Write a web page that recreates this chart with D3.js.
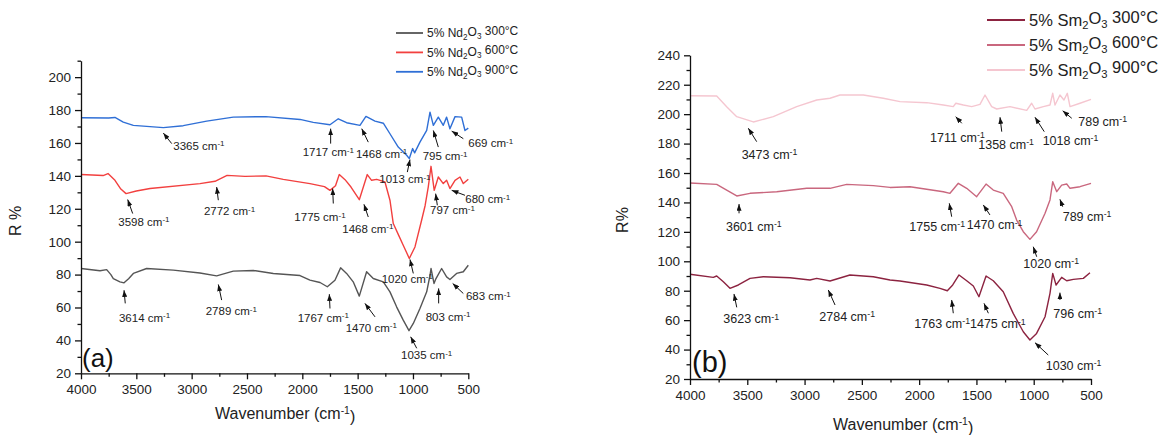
<!DOCTYPE html>
<html>
<head>
<meta charset="utf-8">
<script src="https://cdn.jsdelivr.net/npm/d3@7"></script>
<style>
  body { margin: 0; background: #fff; }
  svg { font-family: "Liberation Sans", Arial, sans-serif; }
</style>
</head>
<body>
<div id="vis"></div>
<script>
const FRAME_WIDTH = 1166;
const FRAME_HEIGHT = 435;

// x axis ticks (wavenumber), shared by both panels
const X_TICKS = [4000, 3500, 3000, 2500, 2000, 1500, 1000, 500];
const X_MINOR = [3750, 3250, 2750, 2250, 1750, 1250, 750];

// (a) Nd2O3 spectra
const ND_Y_TICKS = [20, 40, 60, 80, 100, 120, 140, 160, 180, 200];
const ND_Y_MINOR = [30, 50, 70, 90, 110, 130, 150, 170, 190, 210];
const ND_LEGEND = ["300", "600", "900"];

const nd300W = [4000, 3828, 3768, 3730, 3708, 3648, 3611, 3570, 3527, 3407, 3166, 2925, 2774, 2624, 2443, 2262, 2021, 1931, 1840, 1774, 1705, 1654, 1600, 1540, 1485, 1419, 1359, 1268, 1208, 1148, 1088, 1036, 997, 937, 876, 846, 837, 810, 792, 741, 696, 666, 606, 545, 500];
const nd300 = [83.7, 82.3, 83.0, 80.0, 77.6, 75.6, 75.0, 77.5, 80.7, 83.7, 82.7, 81.0, 79.2, 82.1, 82.5, 80.7, 79.4, 76.6, 75.2, 72.6, 76.6, 84.1, 80.7, 75.6, 66.9, 81.7, 77.6, 75.6, 69.5, 60.4, 52.3, 45.9, 50.3, 59.4, 69.5, 79.6, 83.7, 74.6, 77.6, 83.7, 78.6, 77.0, 80.7, 81.7, 85.7];

const nd600W = [4000, 3800, 3756, 3693, 3640, 3593, 3500, 3376, 2925, 2789, 2680, 2518, 2328, 2172, 1931, 1800, 1750, 1700, 1666, 1614, 1560, 1485, 1413, 1374, 1328, 1253, 1208, 1178, 1130, 1088, 1033, 982, 922, 890, 862, 837, 808, 771, 726, 696, 666, 620, 575, 545, 500];
const nd600 = [140.8, 140.2, 141.4, 137.3, 132.0, 129.2, 130.8, 132.3, 135.3, 136.7, 140.3, 139.7, 140.0, 137.9, 135.3, 133.5, 131.2, 134.0, 140.8, 137.7, 133.2, 125.5, 140.8, 137.3, 137.9, 136.3, 125.2, 111.0, 104.0, 97.8, 89.8, 96.8, 113.0, 122.0, 133.2, 145.8, 131.2, 139.3, 135.3, 137.3, 132.3, 137.3, 139.3, 135.3, 138.0];

const nd900W = [4000, 3750, 3693, 3618, 3527, 3256, 3076, 2864, 2624, 2330, 2021, 1901, 1750, 1675, 1600, 1479, 1425, 1343, 1268, 1208, 1133, 1057, 1033, 1003, 985, 937, 876, 846, 816, 771, 726, 696, 666, 620, 560, 530, 500];
const nd900 = [175.3, 175.2, 175.5, 172.7, 170.7, 169.3, 170.5, 173.3, 175.7, 176.0, 174.3, 172.5, 171.1, 174.7, 172.3, 170.7, 176.1, 173.3, 172.0, 165.6, 157.5, 152.5, 150.5, 156.6, 154.0, 160.5, 167.6, 178.7, 170.7, 175.7, 170.7, 175.7, 168.6, 176.0, 175.7, 167.6, 169.0];

// annotations: [label, arrow head w, v, arrow tail w, v, text w, v]
const ndNotes = [
  ["3365", 3256, 166.0, 3180, 159.6, 3166, 158.5],
  ["3598", 3578, 125.6, 3533, 117.1, 3663, 112.0],
  ["2772", 2774, 133.2, 2759, 125.2, 2889, 118.5],
  ["3614", 3611, 70.5, 3600, 62.5, 3657, 53.7],
  ["2789", 2759, 74.0, 2729, 64.5, 2873, 57.8],
  ["1717", 1744, 168.7, 1744, 159.6, 1997, 154.5],
  ["1468", 1463, 168.7, 1404, 160.5, 1515, 153.5],
  ["1013", 1027, 149.9, 1051, 142.3, 1304, 137.9],
  ["795", 816, 167.6, 771, 157.5, 912, 151.9],
  ["669", 650, 167.2, 545, 162.6, 500, 159.9],
  ["1775", 1726, 132.3, 1720, 123.2, 2072, 115.0],
  ["1468", 1443, 122.7, 1404, 115.0, 1639, 108.0],
  ["1020", 1027, 89.2, 997, 80.7, 1283, 77.6],
  ["797", 795, 129.2, 780, 122.1, 846, 119.1],
  ["680", 650, 131.2, 530, 128.2, 527, 125.8],
  ["1767", 1756, 68.1, 1750, 59.4, 2042, 53.7],
  ["1470", 1434, 62.5, 1343, 54.3, 1608, 47.9],
  ["1035", 1021, 42.2, 966, 35.2, 1108, 31.1],
  ["803", 768, 71.6, 768, 62.5, 885, 54.3],
  ["683", 641, 74.6, 545, 68.5, 521, 66.9]
];

// (b) Sm2O3 spectra
const SM_Y_TICKS = [20, 40, 60, 80, 100, 120, 140, 160, 180, 200, 220, 240];
const SM_Y_MINOR = [30, 50, 70, 90, 110, 130, 150, 170, 190, 210, 230];
const SM_LEGEND = ["300", "600", "900"];

const sm300W = [4000, 3797, 3767, 3709, 3651, 3578, 3476, 3360, 3127, 2953, 2894, 2778, 2604, 2400, 2254, 2167, 1934, 1818, 1754, 1707, 1652, 1585, 1527, 1478, 1416, 1353, 1266, 1179, 1091, 1033, 975, 901, 858, 834, 805, 756, 712, 654, 567, 509];
const sm300 = [91.2, 89.1, 90.0, 86.1, 81.6, 83.9, 88.4, 89.5, 88.8, 87.3, 88.4, 86.6, 90.7, 89.5, 87.3, 86.6, 83.9, 81.6, 80.0, 83.9, 90.7, 86.8, 83.2, 75.9, 90.0, 86.8, 79.3, 64.6, 52.1, 46.5, 51.0, 62.3, 78.2, 91.8, 83.9, 89.1, 86.8, 87.7, 88.4, 92.2];

const sm600W = [4000, 3767, 3680, 3592, 3476, 3243, 2981, 2778, 2632, 2400, 2254, 2080, 1789, 1731, 1658, 1585, 1498, 1416, 1353, 1266, 1192, 1149, 1091, 1033, 975, 901, 858, 834, 799, 756, 712, 683, 596, 500];
const sm600 = [153.2, 152.3, 148.4, 144.4, 146.2, 147.3, 149.6, 149.6, 152.3, 151.4, 150.2, 150.7, 147.3, 146.2, 153.0, 149.6, 143.9, 152.5, 148.4, 146.2, 137.1, 128.0, 120.1, 114.9, 120.1, 132.6, 141.7, 154.1, 147.3, 151.8, 152.5, 149.6, 150.7, 153.0];

const sm900W = [4000, 3767, 3680, 3592, 3447, 3273, 3069, 2894, 2778, 2691, 2487, 2313, 2167, 1934, 1789, 1702, 1680, 1614, 1541, 1469, 1425, 1367, 1323, 1207, 1061, 1018, 989, 916, 858, 834, 814, 771, 736, 707, 683, 596, 500];
const sm900 = [212.5, 212.3, 205.1, 198.3, 194.7, 198.3, 205.1, 209.6, 210.8, 213.0, 213.0, 210.8, 208.5, 207.8, 206.2, 205.1, 207.4, 206.2, 205.1, 206.6, 213.0, 205.1, 203.5, 205.1, 202.6, 207.4, 203.5, 205.1, 206.2, 214.2, 206.2, 213.0, 209.6, 214.2, 205.1, 207.4, 210.1];

const smNotes = [
  ["3473", 3491, 190.4, 3418, 181.3, 3549, 172.9],
  ["3601", 3572, 138.9, 3572, 132.6, 3686, 123.5],
  ["3623", 3616, 77.8, 3592, 68.7, 3709, 60.8],
  ["2784", 2793, 80.5, 2734, 70.3, 2871, 62.8],
  ["1711", 1681, 198.3, 1628, 193.8, 1905, 184.3],
  ["1358", 1294, 197.9, 1279, 188.1, 1484, 179.5],
  ["1018", 989, 197.9, 908, 188.1, 922, 181.8],
  ["789", 747, 202.3, 668, 197.2, 611, 194.9],
  ["1755", 1737, 139.4, 1716, 130.3, 2086, 123.5],
  ["1470", 1440, 138.3, 1382, 131.5, 1585, 124.7],
  ["1020", 1004, 109.9, 974, 103.1, 1091, 98.6],
  ["789", 771, 142.1, 747, 137.1, 747, 130.3],
  ["1763", 1716, 73.7, 1702, 64.7, 2042, 57.9],
  ["1475", 1434, 71.4, 1396, 64.7, 1556, 57.4],
  ["796", 771, 78.7, 771, 73.7, 829, 64.7],
  ["1030", 989, 44.7, 873, 36.3, 895, 29.5]
];

const SVG = d3.select("#vis")
  .append("svg")
    .attr("width", FRAME_WIDTH)
    .attr("height", FRAME_HEIGHT);

SVG.append("rect")
  .attr("width", FRAME_WIDTH)
  .attr("height", FRAME_HEIGHT)
  .attr("fill", "#fff");

SVG.append("defs").append("marker")
    .attr("id", "arrow")
    .attr("viewBox", "0 0 8 6")
    .attr("refX", 8)
    .attr("refY", 3)
    .attr("markerWidth", 7)
    .attr("markerHeight", 5)
    .attr("markerUnits", "userSpaceOnUse")
    .attr("orient", "auto")
  .append("path")
    .attr("d", "M0,0 L8,3 L0,6 z")
    .attr("fill", "#111");

// superscript "-1" after "cm"
function cmText(sel, num) {
  sel.append("tspan").text(num + " cm");
  sel.append("tspan").attr("dy", "-0.45em").attr("font-size", "0.7em").text("-1");
}

function drawPanel(p) {
  const X = d3.scaleLinear().domain([4000, 500]).range([p.left, p.right]);
  const Y = d3.scaleLinear().domain(p.yDomain).range([p.bottom, p.top]);
  const g = SVG.append("g");

  // spectra
  const line = d3.line().x(d => X(d[0])).y(d => Y(d[1]));
  p.series.forEach((s) => {
    g.append("path")
      .datum(d3.zip(s.w, s.v))
      .attr("d", line)
      .attr("fill", "none")
      .attr("stroke", s.color)
      .attr("stroke-width", 1.4)
      .attr("stroke-linejoin", "round");
  });

  // axes
  const xAxis = g.append("g")
    .attr("transform", "translate(0," + p.bottom + ")")
    .call(d3.axisBottom(X).tickValues(X_TICKS).tickFormat(d3.format("d"))
      .tickSize(6).tickSizeOuter(0).tickPadding(5));
  g.append("g")
    .attr("transform", "translate(0," + p.bottom + ")")
    .call(d3.axisBottom(X).tickValues(X_MINOR).tickFormat("").tickSize(3.5).tickSizeOuter(0))
    .select(".domain").remove();

  const yAxis = g.append("g")
    .attr("transform", "translate(" + p.left + ",0)")
    .call(d3.axisLeft(Y).tickValues(p.yTicks).tickSize(6).tickSizeOuter(0).tickPadding(4));
  g.append("g")
    .attr("transform", "translate(" + p.left + ",0)")
    .call(d3.axisLeft(Y).tickValues(p.yMinor).tickFormat("").tickSize(3.5).tickSizeOuter(0))
    .select(".domain").remove();

  g.selectAll(".domain, .tick line").attr("stroke", "#111").attr("stroke-width", 1.3);
  [xAxis, yAxis].forEach(a => a.selectAll("text")
    .attr("font-size", 13.5).attr("fill", "#222")
    .attr("font-family", "'Liberation Sans', Arial, sans-serif"));

  // axis titles
  const xt = g.append("text")
    .attr("x", p.xTitle[0]).attr("y", p.xTitle[1])
    .attr("font-size", 16).attr("fill", "#222");
  xt.append("tspan").text("Wavenumber (cm");
  xt.append("tspan").attr("dy", "-0.45em").attr("font-size", "0.65em").text("-1");
  xt.append("tspan").attr("dy", "0.45em").text(")");

  g.append("text")
    .attr("transform", "translate(" + p.yTitle[0] + "," + p.yTitle[1] + ") rotate(-90)")
    .attr("text-anchor", "middle")
    .attr("font-size", 16).attr("fill", "#222")
    .text(p.yLabel);

  g.append("text")
    .attr("x", p.tag[0]).attr("y", p.tag[1])
    .attr("font-size", p.tag[2]).attr("fill", "#111")
    .text(p.tagText);

  // peak annotations
  const notes = g.selectAll(".note").data(p.notes).enter().append("g").attr("class", "note");
  notes.append("line")
    .attr("x1", d => X(d[3])).attr("y1", d => Y(d[4]))
    .attr("x2", d => X(d[1])).attr("y2", d => Y(d[2]))
    .attr("stroke", "#111").attr("stroke-width", 1)
    .attr("marker-end", "url(#arrow)");
  notes.append("text")
    .attr("x", d => X(d[5])).attr("y", d => Y(d[6]) + p.noteSize * 0.36)
    .attr("font-size", p.noteSize).attr("fill", "#222")
    .each(function (d) { cmText(d3.select(this), d[0]); });

  // legend
  const leg = g.selectAll(".leg").data(p.series).enter().append("g")
    .attr("transform", (d, i) => "translate(" + p.legend.x + "," + (p.legend.y + i * p.legend.step) + ")");
  leg.append("line")
    .attr("x1", 0).attr("x2", p.legend.len)
    .attr("stroke", d => d.color).attr("stroke-width", 1.8);
  const lt = leg.append("text")
    .attr("x", p.legend.len + 4).attr("y", p.legend.size * 0.36)
    .attr("font-size", p.legend.size).attr("fill", "#222");
  lt.append("tspan").text(p.oxide[0]);
  lt.append("tspan").attr("dy", "0.3em").attr("font-size", "0.68em").text("2");
  lt.append("tspan").attr("dy", "-0.3em").text("O");
  lt.append("tspan").attr("dy", "0.3em").attr("font-size", "0.68em").text("3");
  lt.append("tspan").attr("dy", "-0.3em").text(d => " " + d.temp + "°C");
}

drawPanel({
  left: 81, right: 468.3, top: 60.7, bottom: 373.3,
  yDomain: [20, 210], yTicks: ND_Y_TICKS, yMinor: ND_Y_MINOR,
  series: [
    {w: nd300W, v: nd300, color: "#555555", temp: ND_LEGEND[0]},
    {w: nd600W, v: nd600, color: "#f2403f", temp: ND_LEGEND[1]},
    {w: nd900W, v: nd900, color: "#2f6fd6", temp: ND_LEGEND[2]}
  ],
  notes: ndNotes, noteSize: 11.5,
  xTitle: [215, 419], yTitle: [21, 221], yLabel: "R %",
  tag: [82, 366.5, 26], tagText: "(a)",
  legend: {x: 396, y: 33, step: 19.4, len: 27, size: 12},
  oxide: ["5% Nd"]
});

drawPanel({
  left: 690, right: 1091, top: 55.3, bottom: 379,
  yDomain: [20, 240], yTicks: SM_Y_TICKS, yMinor: SM_Y_MINOR,
  series: [
    {w: sm300W, v: sm300, color: "#8c2340", temp: SM_LEGEND[0]},
    {w: sm600W, v: sm600, color: "#c9677e", temp: SM_LEGEND[1]},
    {w: sm900W, v: sm900, color: "#f5c6d0", temp: SM_LEGEND[2]}
  ],
  notes: smNotes, noteSize: 12.5,
  xTitle: [833, 430], yTitle: [628, 220], yLabel: "R%",
  tag: [692, 371.5, 29], tagText: "(b)",
  legend: {x: 987, y: 20, step: 25, len: 38, size: 16.5},
  oxide: ["5% Sm"]
});
</script>
</body>
</html>
